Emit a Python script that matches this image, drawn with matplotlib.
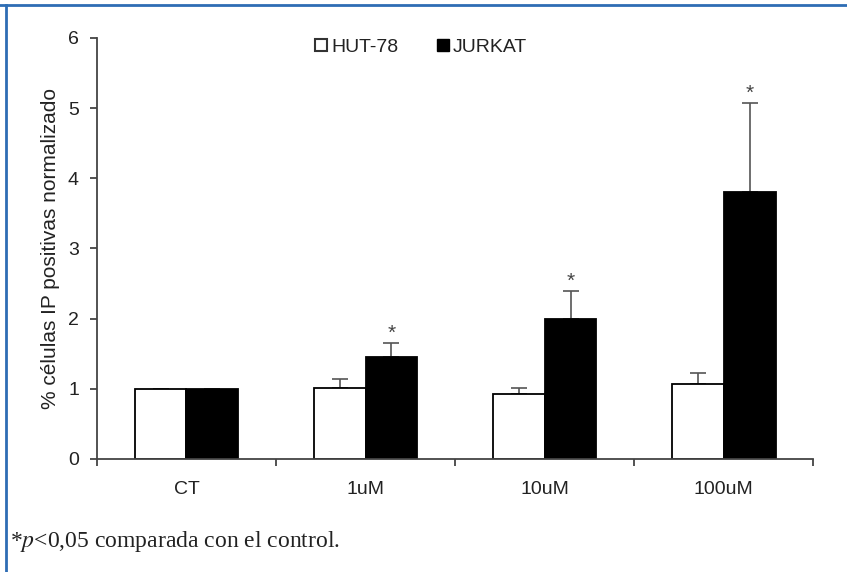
import numpy as np
import matplotlib.pyplot as plt
from matplotlib.lines import Line2D

categories = ['CT', '1uM', '10uM', '100uM']
hut78 = [1.0, 1.01, 0.93, 1.07]
hut78_err = [0.0, 0.13, 0.08, 0.15]
jurkat = [1.0, 1.45, 1.99, 3.80]
jurkat_err = [0.0, 0.20, 0.40, 1.27]
signif = [False, True, True, True]

plt.rcParams['font.family'] = ['Liberation Sans', 'DejaVu Sans']
plt.rcParams['mathtext.fontset'] = 'stix'

fig = plt.figure(figsize=(8.47, 5.72), dpi=100)
ax = fig.add_axes([0.1145, 0.1976, 0.8455, 0.736])

x = np.arange(len(categories))
w = 0.29
ax.bar(x - w / 2, hut78, w, color='white', edgecolor='black', linewidth=1.3,
       label='HUT-78', zorder=2)
ax.bar(x + w / 2, jurkat, w, color='black', edgecolor='black', linewidth=1.3,
       label='JURKAT', zorder=2)

# only upper error bars
ax.errorbar(x - w / 2, hut78, yerr=[np.zeros(4), hut78_err], fmt='none',
            ecolor='#555555', elinewidth=1.2, capsize=6, capthick=1.2, zorder=1)
ax.errorbar(x + w / 2, jurkat, yerr=[np.zeros(4), jurkat_err], fmt='none',
            ecolor='#555555', elinewidth=1.2, capsize=6, capthick=1.2, zorder=1)

for i in range(len(categories)):
    if signif[i]:
        ax.text(x[i] + w / 2, jurkat[i] + jurkat_err[i] + 0.01, '*',
                ha='center', va='bottom', fontsize=15, color='#444444')

ax.set_xlim(-0.5, len(categories) - 0.5)
ax.set_ylim(0, 6)
ax.set_yticks(range(7))
ax.set_xticks(x)
ax.set_xticklabels(categories)
ax.set_xticks(np.arange(len(categories) + 1) - 0.5, minor=True)
ax.tick_params(axis='x', which='major', length=0, pad=16, labelsize=14,
               labelcolor='#222222')
ax.tick_params(axis='x', which='minor', length=5, direction='out',
               color='#444444', width=1.3)
ax.tick_params(axis='y', length=5, labelsize=14, pad=8, color='#444444',
               width=1.3, labelcolor='#222222')
ax.spines['top'].set_visible(False)
ax.spines['right'].set_visible(False)
for side in ['left', 'bottom']:
    ax.spines[side].set_color('#444444')
    ax.spines[side].set_linewidth(1.3)
ax.set_ylabel('% células IP positivas normalizado', fontsize=15, labelpad=6,
              color='#222222')

handles = [
    Line2D([], [], marker='s', linestyle='none', markersize=9,
           markerfacecolor='white', markeredgecolor='#333333',
           markeredgewidth=1.5),
    Line2D([], [], marker='s', linestyle='none', markersize=9,
           markerfacecolor='black', markeredgecolor='black'),
]
ax.legend(handles, ['HUT-78', 'JURKAT'], loc='upper center',
          bbox_to_anchor=(0.45, 1.04), ncol=2, frameon=False, fontsize=14,
          handletextpad=0.0, columnspacing=1.8, handlelength=1.0,
          labelcolor='#222222')

fig.text(0.012, 0.043, '*$p$<0,05 comparada con el control.',
         family='Liberation Serif', fontsize=17, color='#222222')

# blue frame on top and left
fig.add_artist(Line2D([0, 1], [1 - 5 / 572, 1 - 5 / 572], color='#2E6DB4',
                      linewidth=2, transform=fig.transFigure))
fig.add_artist(Line2D([6 / 847, 6 / 847], [0, 1 - 5 / 572], color='#2E6DB4',
                      linewidth=2, transform=fig.transFigure))

fig.savefig('out.png', dpi=100)
